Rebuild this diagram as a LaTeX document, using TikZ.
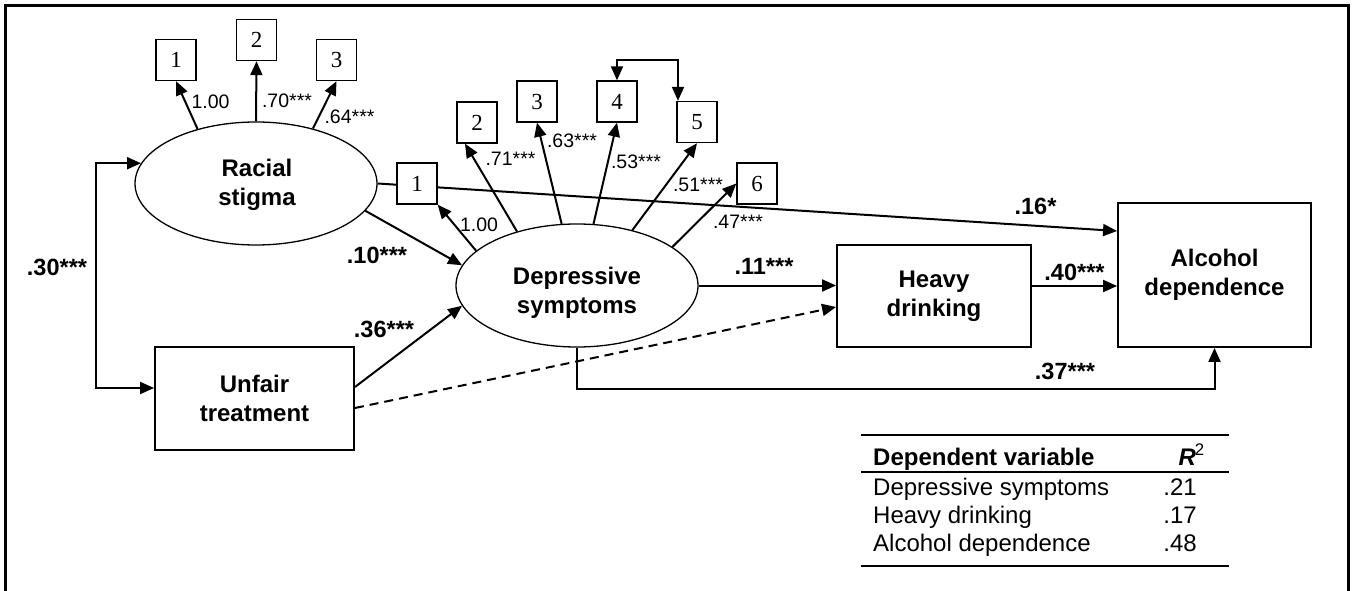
\documentclass[tikz,border=0pt]{standalone}
\usepackage{fontspec}
\setmainfont{Liberation Sans}
\newfontfamily\serifnum{Liberation Serif}
\usetikzlibrary{shapes.geometric,arrows.meta,calc}
\pgfdeclarelayer{bg}
\pgfsetlayers{bg,main}
\begin{document}
\begin{tikzpicture}[x=1pt,y=-1pt,
 latent/.style={ellipse,draw,line width=1.3pt,minimum width=242pt,minimum height=123pt,inner sep=0pt,fill=white},
 obs/.style={rectangle,draw,line width=1.9pt,inner sep=0pt,fill=white,align=center,font=\fontsize{24}{29}\selectfont\bfseries},
 ind/.style={rectangle,draw,line width=1.4pt,minimum width=40pt,minimum height=41pt,inner sep=0pt,fill=white,font=\serifnum\fontsize{23}{23}\selectfont},
 ltxt/.style={align=center,inner sep=0pt,font=\fontsize{24}{29}\selectfont\bfseries},
 coef/.style={inner sep=0pt,font=\fontsize{19.5}{20}\selectfont},
 bcoef/.style={inner sep=0pt,font=\fontsize{23.5}{24}\selectfont\bfseries},
 tab/.style={inner sep=0pt,font=\fontsize{24}{24}\selectfont},
 tip/.tip={Triangle[length=14pt,width=12pt]},
 arr/.style={line width=2pt,-tip},
 dbl/.style={line width=2pt,tip-tip},
 rule/.style={line width=1.5pt}
]
\useasboundingbox (0,0) rectangle (1352,591);
\begin{pgfonlayer}{bg}
\fill[white] (0,0) rectangle (1352,591);
\end{pgfonlayer}
% frame
\draw[line width=3pt] (5.5,591) -- (5.5,5.5) -- (1348,5.5) -- (1348,591);

% latent variables
\node[latent] (RS) at (256,183.5) {};
\node[ltxt] (RSt) at (257,185) {Racial\\stigma};
\node[latent] (DS) at (577,285.5) {};
\node[ltxt] (DSt) at (577,293) {Depressive\\symptoms};

% observed variables
\node[obs,minimum width=199pt,minimum height=103pt] (UT) at (254.5,398.5) {Unfair\\treatment};
\node[obs,minimum width=194pt,minimum height=102pt] (HD) at (934,296) {Heavy\\drinking};
\node[obs,minimum width=193pt,minimum height=144pt] (AD) at (1214.5,275) {Alcohol\\dependence};

% indicators
\node[ind] (r1) at (176,60) {1};
\node[ind] (r2) at (256.5,40) {2};
\node[ind] (r3) at (336.5,60) {3};
\node[ind] (d1) at (417,183.5) {1};
\node[ind] (d2) at (477,122.5) {2};
\node[ind] (d3) at (537,101.5) {3};
\node[ind] (d4) at (617,101.5) {4};
\node[ind] (d5) at (697,122) {5};
\node[ind] (d6) at (757,183.5) {6};

% racial stigma loadings
\draw[arr] (RS.137) -- (r1.south);
\draw[arr] (RS.90) -- (r2.south);
\draw[arr] (RS.44) -- (r3.south);
\node[coef] (lr1) at (210.5,102) {1.00};
\node[coef] (lr2) at (287,101) {.70***};
\node[coef] (lr3) at (349.5,116.5) {.64***};

% depressive loadings
\draw[arr] (DS.161) -- (d1.south east);
\draw[arr] (DS.138) -- ([xshift=-12pt]d2.south);
\draw[arr] (DS.104) -- (d3.south);
\draw[arr] (DS.75) -- (d4.south);
\draw[arr] (DS.45) -- (d5.south);
\draw[arr] (DS.22) -- (d6.west);
\node[coef] (ld1) at (479,224.5) {1.00};
\node[coef] (ld2) at (510.5,159) {.71***};
\node[coef] (ld3) at (572,141) {.63***};
\node[coef] (ld4) at (636,162) {.53***};
\node[coef] (ld5) at (698,184.5) {.51***};
\node[coef] (ld6) at (738,222) {.47***};

% residual covariance 4-5
\draw[dbl] (d4.north) -- ++(0,-20) -| ([xshift=-19pt]d5.north);

% covariance racial stigma - unfair treatment
\coordinate (cv) at (96,0);
\coordinate (UTin) at ([yshift=10.5pt]UT.west);
\draw[dbl] (RS.170) -- (RS.170 -| cv) -- (cv |- UTin) -- (UTin);
\node[bcoef] (l30) at (57,267.5) {.30***};

% structural paths
\draw[arr] (RS.346) -- (DS.170);
\node[bcoef] (l10) at (377,255) {.10***};
\draw[arr] ([yshift=11.5pt]UT.east) -- (DS.190);
\node[bcoef] (l36) at (384,329) {.36***};
\draw[line width=2pt,dash pattern=on 9pt off 6pt,-tip] ([yshift=-9.5pt]UT.east) -- ([yshift=-11pt]HD.west);
\draw[arr] (DS.east) -- (DS.east -| HD.west);
\node[bcoef] (l11) at (764,266) {.11***};
\draw[arr] ([yshift=10pt]HD.east) -- ([yshift=10pt]HD.east -| AD.west);
\node[bcoef] (l40) at (1074.5,272) {.40***};
\begin{pgfonlayer}{bg}
\draw[arr] (RS.east) -- ([yshift=44pt]AD.west);
\end{pgfonlayer}
\node[bcoef] (l16) at (1035.5,206.5) {.16*};
\draw[arr] (DS.south) -- ++(0,41) -| (AD.south);
\node[bcoef] (l37) at (1065,371) {.37***};

% R-squared table
\draw[rule] (861,435) -- (1229,435);
\draw[rule] (861,472) -- (1229,472);
\draw[rule] (861,566) -- (1229,566);
\node[tab,anchor=base west] (th1) at (873,465) {\bfseries Dependent variable};
\node[tab,anchor=base east] (th2) at (1205,465) {{\bfseries\itshape R}\kern-1pt\textsuperscript{2}};
\node[tab,anchor=base west] (t1) at (873,495) {Depressive symptoms};
\node[tab,anchor=base west] (t2) at (873,523) {Heavy drinking};
\node[tab,anchor=base west] (t3) at (873,551) {Alcohol dependence};
\node[tab,anchor=base east] (v1) at (1197,495) {.21};
\node[tab,anchor=base east] (v2) at (1197,523) {.17};
\node[tab,anchor=base east] (v3) at (1197,551) {.48};
\end{tikzpicture}
\end{document}
